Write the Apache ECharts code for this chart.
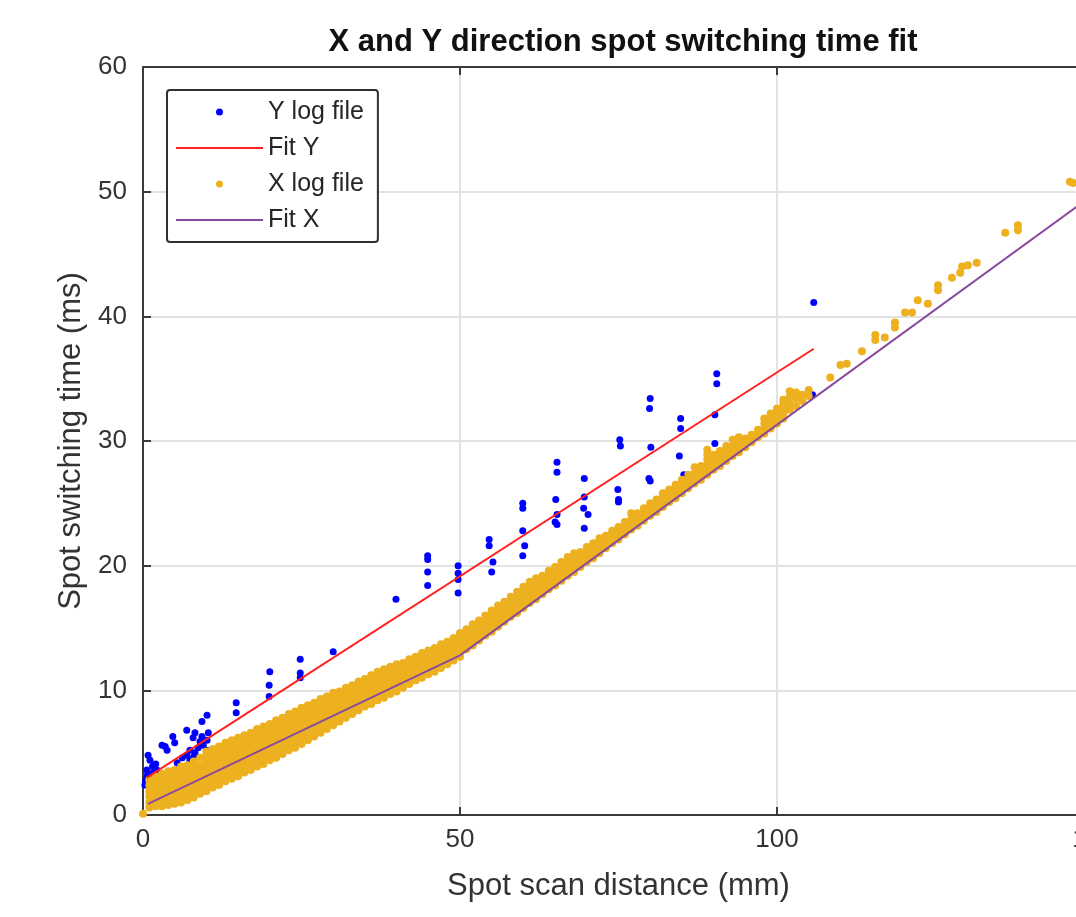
<!DOCTYPE html>
<html>
<head>
<meta charset="utf-8">
<script src="https://cdn.jsdelivr.net/npm/echarts@6/dist/echarts.min.js"></script>
<style>
html,body{margin:0;padding:0;background:#fff;}
#chart{width:1076px;height:917px;}
</style>
</head>
<body>
<div id="chart"></div>
<script>
// ---- Data ----
const chartTitle = 'X and Y direction spot switching time fit';
const xAxisName = 'Spot scan distance (mm)';
const yAxisName = 'Spot switching time (ms)';
const xTicks = [0, 50, 100, 150];
const yTicks = [0, 10, 20, 30, 40, 50, 60];

// Y log file: [distance mm, time ms]
const yLogPoints = [
  [0.3,2.4],[0.4,2.7],[0.5,2.8],[0.6,3.0],[0.6,3.6],[0.7,3.2],[0.8,4.8],[1.0,3.3],[1.1,4.4],[1.2,2.9],
  [1.4,2.6],[1.5,3.9],[1.6,2.25],[1.8,3.5],[2.0,2.4],[2.0,4.1],[2.2,3.6],
  [3.0,5.6],[3.5,5.5],[3.8,5.2],[4.6,3.5],[4.7,6.3],[5.0,5.8],[5.4,4.2],[5.8,3.9],[6.2,4.6],
  [6.9,4.8],[6.9,6.8],[7.4,4.4],[7.4,5.2],[7.9,6.2],[8.0,4.7],[8.2,5.0],[8.2,6.6],[8.7,5.4],
  [9.0,5.9],[9.3,6.3],[9.3,7.5],[9.5,5.6],[10.0,5.2],[10.1,6.0],[10.1,8.0],[10.3,6.6],
  [14.7,8.2],[14.7,9.0],
  [19.9,9.5],[19.9,10.4],[20.0,11.5],
  [24.8,11.0],[24.8,11.4],[24.8,12.5],
  [30.0,13.1],
  [39.9,17.3],
  [44.9,18.4],[44.9,19.5],[44.9,20.5],[44.9,20.8],
  [49.7,17.8],[49.7,18.9],[49.7,19.4],[49.7,20.0],
  [54.6,21.6],[54.6,22.1],[55.2,20.3],[55.0,19.5],
  [59.9,20.8],[60.2,21.6],[59.9,22.8],[59.9,24.6],[59.9,25.0],
  [65.3,23.3],[65.0,23.5],[65.3,24.1],[65.1,25.3],[65.3,27.5],[65.3,28.3],
  [69.6,23.0],[70.2,24.1],[69.5,24.6],[69.6,25.5],[69.6,27.0],
  [75.0,25.1],[75.0,25.3],[74.9,26.1],[75.3,29.6],[75.2,30.1],
  [80.0,26.8],[79.8,27.0],[80.1,29.5],[79.9,32.6],[80.0,33.4],
  [85.0,26.9],[85.3,27.3],[84.6,28.8],[84.8,31.0],[84.8,31.8],
  [90.2,28.2],[90.2,29.8],[90.2,32.1],[90.5,34.6],[90.5,35.4],
  [105.6,33.7],[105.8,41.1]
];

// X log file: dense band, one column of times per distance
const xLogCols = [
  [0,[0.1]],
  [1,[0.6,1.0,1.5,1.9,2.4,2.8]],
  [2,[0.7,1.2,1.6,2.1,2.6,3.1]],
  [3,[0.7,1.1,1.6,2.0,2.5,2.9,3.3]],
  [4,[0.8,1.3,1.8,2.2,2.7,3.1,3.5]],
  [5,[0.9,1.4,1.8,2.3,2.8,3.2,3.6]],
  [6,[1.0,1.5,2.0,2.4,2.9,3.4,3.9]],
  [7,[1.2,1.6,2.1,2.6,3.0,3.5,4.0]],
  [8,[1.4,1.8,2.3,2.8,3.3,3.8,4.3]],
  [9,[1.7,2.1,2.6,3.1,3.5,4.0,4.6]],
  [10,[1.9,2.4,2.9,3.3,3.8,4.3,4.8,5.1]],
  [11,[2.2,2.7,3.1,3.6,4.1,4.6,5.0,5.3]],
  [12,[2.4,2.9,3.4,3.8,4.3,4.8,5.2,5.5]],
  [13,[2.7,3.1,3.6,4.1,4.6,5.0,5.4,5.8]],
  [14,[2.9,3.4,3.9,4.3,4.8,5.3,5.7,6.0]],
  [15,[3.1,3.6,4.1,4.6,5.0,5.5,5.9,6.2]],
  [16,[3.4,3.8,4.3,4.8,5.3,5.7,6.1,6.4]],
  [17,[3.6,4.1,4.5,5.0,5.5,5.9,6.3,6.6]],
  [18,[3.9,4.3,4.8,5.3,5.7,6.2,6.6,6.9]],
  [19,[4.1,4.6,5.0,5.5,6.0,6.4,6.8,7.1]],
  [20,[4.4,4.8,5.3,5.8,6.2,6.7,7.0,7.3]],
  [21,[4.6,5.1,5.5,6.0,6.5,6.9,7.3,7.6]],
  [22,[4.9,5.3,5.8,6.3,6.7,7.1,7.5,7.8]],
  [23,[5.2,5.6,6.1,6.5,7.0,7.4,7.8,8.1]],
  [24,[5.4,5.9,6.3,6.8,7.2,7.6,8.0,8.3]],
  [25,[5.7,6.1,6.6,7.0,7.5,7.9,8.3,8.6]],
  [26,[6.0,6.4,6.9,7.3,7.7,8.1,8.5,8.8]],
  [27,[6.3,6.7,7.1,7.6,8.0,8.4,8.8,9.0]],
  [28,[6.6,7.0,7.4,7.8,8.2,8.6,9.0,9.3]],
  [29,[6.9,7.3,7.7,8.1,8.5,8.9,9.2,9.5]],
  [30,[7.2,7.6,8.0,8.4,8.8,9.2,9.5,9.8]],
  [31,[7.5,7.9,8.3,8.7,9.1,9.5,9.9]],
  [32,[7.8,8.2,8.6,9.0,9.4,9.8,10.2]],
  [33,[8.1,8.5,8.9,9.3,9.7,10.1,10.4]],
  [34,[8.4,8.8,9.2,9.6,10.0,10.3,10.7]],
  [35,[8.7,9.1,9.5,9.9,10.3,10.6,10.9]],
  [36,[8.9,9.3,9.7,10.1,10.5,10.8,11.2]],
  [37,[9.2,9.6,10.0,10.4,10.8,11.1,11.5]],
  [38,[9.4,9.8,10.2,10.6,11.0,11.4,11.7]],
  [39,[9.7,10.1,10.5,10.9,11.3,11.6,11.9]],
  [40,[9.9,10.3,10.7,11.1,11.5,11.8,12.1]],
  [41,[10.2,10.6,11.0,11.4,11.8,12.2]],
  [42,[10.5,10.9,11.3,11.7,12.1,12.5]],
  [43,[10.8,11.2,11.6,12.0,12.4,12.7]],
  [44,[11.0,11.4,11.8,12.2,12.6,13.0]],
  [45,[11.3,11.7,12.1,12.5,12.9,13.2]],
  [46,[11.5,11.9,12.3,12.7,13.1,13.4]],
  [47,[11.8,12.2,12.6,13.0,13.3,13.7]],
  [48,[12.1,12.5,12.9,13.3,13.6,13.9]],
  [49,[12.4,12.8,13.2,13.6,13.9,14.2]],
  [50,[12.7,13.1,13.5,13.9,14.2,14.6]],
  [51,[13.3,13.7,14.1,14.5,14.9]],
  [52,[13.6,14.0,14.4,14.8,15.3]],
  [53,[14.0,14.4,14.8,15.2,15.6]],
  [54,[14.4,14.8,15.2,15.6,16.0]],
  [55,[14.7,15.1,15.5,15.9,16.4]],
  [56,[15.1,15.5,15.9,16.3,16.8]],
  [57,[15.5,15.9,16.3,16.7,17.1]],
  [58,[15.9,16.3,16.7,17.1,17.5]],
  [59,[16.2,16.6,17.0,17.5,17.9]],
  [60,[16.6,17.0,17.4,17.8,18.3]],
  [61,[17.0,17.4,17.8,18.2,18.7]],
  [62,[17.3,17.7,18.1,18.6,19.0]],
  [63,[17.7,18.1,18.5,18.9,19.2]],
  [64,[18.1,18.5,18.9,19.3,19.6]],
  [65,[18.4,18.8,19.2,19.6,19.9]],
  [66,[18.8,19.2,19.6,20.0,20.3]],
  [67,[19.2,19.6,20.0,20.4,20.7]],
  [68,[19.5,19.9,20.3,20.7,21.0]],
  [69,[19.9,20.3,20.7,21.1]],
  [70,[20.3,20.7,21.1,21.5]],
  [71,[20.6,21.0,21.4,21.8]],
  [72,[21.0,21.4,21.8,22.2]],
  [73,[21.4,21.8,22.2,22.4]],
  [74,[21.8,22.2,22.6,22.8]],
  [75,[22.1,22.5,22.9,23.1]],
  [76,[22.5,22.9,23.3,23.5]],
  [77,[22.9,23.3,23.7,24.2]],
  [78,[23.2,23.6,24.0,24.2]],
  [79,[23.6,24.0,24.4,24.6]],
  [80,[24.0,24.4,24.8,25.0]],
  [81,[24.3,24.7,25.1,25.3]],
  [82,[24.7,25.1,25.5,25.8]],
  [83,[25.1,25.5,25.9,26.1]],
  [84,[25.4,25.8,26.2,26.5]],
  [85,[25.8,26.2,26.6,26.9]],
  [86,[26.2,26.6,27.0,27.3]],
  [87,[26.6,27.0,27.4,27.9]],
  [88,[26.9,27.3,27.7,28.0]],
  [89,[27.3,27.7,28.1,28.5,28.9,29.3]],
  [90,[27.7,28.1,28.5,28.9]],
  [91,[28.0,28.4,28.8,29.2]],
  [92,[28.4,28.8,29.2,29.6]],
  [93,[28.8,29.2,29.6,30.1]],
  [94,[29.1,29.5,29.9,30.3]],
  [95,[29.5,29.9,30.2]],
  [96,[29.9,30.3,30.5]],
  [97,[30.3,30.6,30.9]],
  [98,[30.6,31.0,31.4,31.8]],
  [99,[31.0,31.4,31.8,32.2]],
  [100,[31.4,31.8,32.2,32.6]],
  [101,[31.8,32.2,32.6,33.0,33.3]],
  [102,[32.5,33.0,33.5,34.0]],
  [103,[32.8,33.4,33.9]],
  [104,[33.2,33.7]],
  [105,[33.6,34.1]]
];
const xLogSparse = [
  [108.4,35.1],[110.0,36.1],[111.0,36.2],[113.4,37.2],[115.5,38.5],[115.5,38.1],[117.0,38.3],
  [118.6,39.5],[118.6,39.1],[120.2,40.3],[121.3,40.3],[122.2,41.3],[123.8,41.0],[125.4,42.5],
  [125.4,42.1],[127.6,43.1],[128.9,43.5],[129.2,44.0],[130.1,44.1],[131.5,44.3],[136.0,46.7],
  [138.0,47.3],[138.0,46.9],[146.2,50.8],[146.7,50.7]
];

// Fit lines
const fitY = [[0.6,3.0],[105.8,37.4]];
const fitX = [[0.8,0.9],[50,12.8],[150,49.8]];

// Build X log points from the columns
const xLogPoints = [];
xLogCols.forEach(function (c) { c[1].forEach(function (t) { xLogPoints.push([c[0], t]); }); });
xLogSparse.forEach(function (p) { xLogPoints.push(p); });

const FONT = "'Liberation Sans', Arial, Helvetica, sans-serif";
const axisColor = '#3a3a3a';
const textColor = '#333333';
const lineIcon = 'path://M0,0h87v2h-87z';

const chart = echarts.init(document.getElementById('chart'), null, {renderer: 'canvas'});

const baseX = {
  type: 'value', min: xTicks[0], max: xTicks[xTicks.length - 1], interval: 50,
};
const baseY = {
  type: 'value', min: yTicks[0], max: yTicks[yTicks.length - 1], interval: 10,
};

const option = {
  backgroundColor: '#ffffff',
  animation: false,
  title: {
    text: chartTitle,
    left: 618, top: 22, textAlign: 'center',
    textStyle: {fontFamily: FONT, fontSize: 31, fontWeight: 'bold', color: '#111'}
  },
  grid: {left: 143, top: 67, width: 951, height: 748, outerBoundsMode: 'none', containLabel: false},
  legend: {
    orient: 'vertical', left: 167, top: 90,
    itemWidth: 87, itemHeight: 7, itemGap: 10,
    symbolKeepAspect: true,
    padding: [9, 14, 9, 9],
    backgroundColor: '#ffffff', borderColor: '#303030', borderWidth: 2, borderRadius: 3,
    textStyle: {fontFamily: FONT, fontSize: 25, color: '#262626', lineHeight: 26},
    data: [
      {name: 'Y log file', icon: 'circle'},
      {name: 'Fit Y', icon: lineIcon},
      {name: 'X log file', icon: 'circle'},
      {name: 'Fit X', icon: lineIcon}
    ]
  },
  xAxis: [
    Object.assign({}, baseX, {
      position: 'bottom',
      name: xAxisName, nameLocation: 'middle', nameGap: 56,
      nameTextStyle: {fontFamily: FONT, fontSize: 31, color: textColor},
      axisLine: {show: true, onZero: false, lineStyle: {color: axisColor, width: 2}},
      axisTick: {show: true, inside: true, length: 8, lineStyle: {color: axisColor, width: 2}},
      axisLabel: {fontFamily: FONT, fontSize: 26, color: textColor, margin: 12},
      splitLine: {show: true, lineStyle: {color: '#e2e2e2', width: 2}}
    }),
    Object.assign({}, baseX, {
      position: 'top',
      axisLine: {show: true, onZero: false, lineStyle: {color: axisColor, width: 2}},
      axisTick: {show: true, inside: true, length: 8, lineStyle: {color: axisColor, width: 2}},
      axisLabel: {show: false},
      splitLine: {show: false}
    })
  ],
  yAxis: [
    Object.assign({}, baseY, {
      position: 'left',
      name: yAxisName, nameLocation: 'middle', nameGap: 50, nameRotate: 90,
      nameTextStyle: {fontFamily: FONT, fontSize: 31, color: textColor},
      axisLine: {show: true, onZero: false, lineStyle: {color: axisColor, width: 2}},
      axisTick: {show: true, inside: true, length: 8, lineStyle: {color: axisColor, width: 2}},
      axisLabel: {fontFamily: FONT, fontSize: 26, color: textColor, margin: 16},
      splitLine: {show: true, lineStyle: {color: '#e2e2e2', width: 2}}
    }),
    Object.assign({}, baseY, {
      position: 'right',
      axisLine: {show: true, onZero: false, lineStyle: {color: axisColor, width: 2}},
      axisTick: {show: true, inside: true, length: 8, lineStyle: {color: axisColor, width: 2}},
      axisLabel: {show: false},
      splitLine: {show: false}
    })
  ],
  series: [
    {
      name: 'Y log file', type: 'scatter', data: yLogPoints,
      symbol: 'circle', symbolSize: 7,
      itemStyle: {color: '#0000ff', opacity: 1}
    },
    {
      name: 'Fit Y', type: 'line', data: fitY, symbol: 'none', showSymbol: false,
      lineStyle: {color: '#ff2020', width: 2}, itemStyle: {color: '#ff2020'}
    },
    {
      name: 'X log file', type: 'scatter', data: xLogPoints,
      symbol: 'circle', symbolSize: 8, large: false,
      itemStyle: {color: '#EDB120', opacity: 1}
    },
    {
      name: 'Fit X', type: 'line', data: fitX, symbol: 'none', showSymbol: false,
      lineStyle: {color: '#8a4a9c', width: 2}, itemStyle: {color: '#8a4a9c'}
    }
  ]
};
chart.setOption(option);
</script>
</body>
</html>
